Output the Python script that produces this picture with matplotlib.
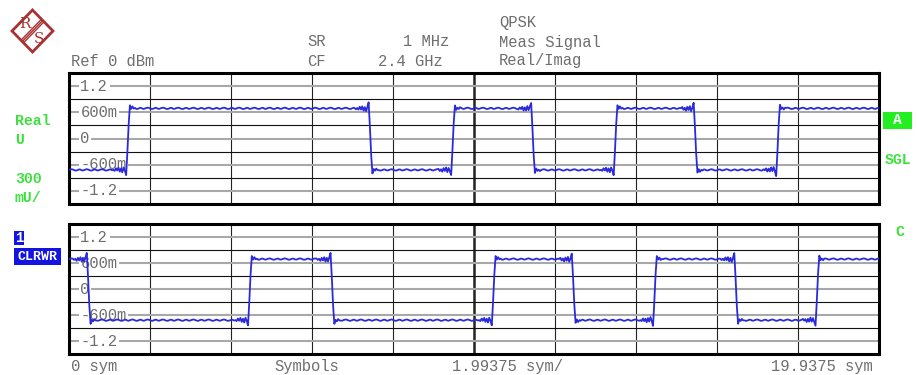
"""QPSK real/imag trace screen, redrawn with matplotlib."""

import matplotlib

matplotlib.use("Agg")
import matplotlib.pyplot as plt
import numpy as np
from matplotlib.patches import Polygon, Rectangle

# axis setup
SYM_PER_DIV = 1.99375
X_STOP = 19.9375
SAMPLES_PER_SYM = 32
HIGH = 0.69
LOW = -0.72

# symbol edges (in sym)
real_start = LOW
real_edges = [1.45, 7.42, 9.43, 11.42, 13.44, 15.40, 17.43]
imag_start = HIGH
imag_edges = [0.48, 4.45, 6.46, 10.45, 12.42, 14.42, 16.42, 18.40]

# shape of one edge: sample offset -> fraction of the step (ringing included)
edge_offsets = [-11, -10, -9, -8, -7, -6, -5, -4, -3, -2, -1, 0, 1, 2, 3, 4, 5, 6]
edge_shape = [0.01, -0.015, 0.02, -0.02, 0.03, -0.025, 0.035, -0.03, 0.04, -0.02, -0.09,
              0.3, 0.75, 1.05, 0.985, 1.02, 0.99, 1.01]
# small ripple on the flat parts
ripple = [0.0, 0.01, 0.016, 0.01, -0.004, -0.014, -0.012, 0.0, 0.012, 0.008, -0.008, -0.012]

grid_levels = [1.2, 0.9, 0.6, 0.3, 0.0, -0.3, -0.6, -0.9, -1.2]
level_labels = {1.2: "1.2", 0.6: "600m", 0.0: "0", -0.6: "-600m", -1.2: "-1.2"}

MONO = "Liberation Mono"
GRAY = "#6e6e6e"
GREEN = "#3ee03e"
BLUE = "#1414e0"
TRACE = "#2a2adc"


def build_trace(start, edges):
    t = np.arange(int(round(X_STOP * SAMPLES_PER_SYM)) + 1) / SAMPLES_PER_SYM
    v = np.full(t.size, start, dtype=float)
    level = start
    for e in edges:
        new = HIGH if level == LOW else LOW
        k0 = int(round(e * SAMPLES_PER_SYM))
        v[k0:] = new
        for off, frac in zip(edge_offsets, edge_shape):
            k = k0 + off
            if 0 <= k < t.size:
                v[k] = level + (new - level) * frac
        level = new
    v += np.resize(ripple, t.size)
    return t, v


def style_panel(ax):
    ax.set_xlim(0, X_STOP)
    ax.set_ylim(-1.5, 1.5)
    ax.set_xticks([])
    ax.set_yticks([])
    for i in range(1, 10):
        ax.axvline(i * SYM_PER_DIV, color="#222222", lw=1.8 if i == 5 else 0.8, zorder=1)
    for y in grid_levels:
        if y in level_labels:
            ax.axhline(y, color="#a8a8a8", lw=1.5, zorder=1)
            ax.text(0.28, y, level_labels[y], ha="left", va="center", fontsize=11.2,
                    family=MONO, color=GRAY, zorder=2,
                    bbox=dict(boxstyle="square,pad=0.1", fc="white", ec="none"))
        else:
            ax.axhline(y, color="#111111", lw=0.8, zorder=1)
    for sp in ax.spines.values():
        sp.set_linewidth(2.2)
        sp.set_color("black")


fig = plt.figure(figsize=(9.17, 3.75), dpi=100)
W, H = 917, 375
ax_top = fig.add_axes([69 / W, 1 - 204 / H, 810 / W, 131 / H])
ax_bot = fig.add_axes([69 / W, 1 - 354 / H, 810 / W, 130 / H])

for ax, start, edges in [(ax_top, real_start, real_edges), (ax_bot, imag_start, imag_edges)]:
    style_panel(ax)
    t, v = build_trace(start, edges)
    ax.plot(t, v, color=TRACE, lw=1.3, zorder=3)

# overlay in pixel coordinates for the screen annotations
ov = fig.add_axes([0, 0, 1, 1], zorder=10)
ov.set_xlim(0, W)
ov.set_ylim(H, 0)
ov.axis("off")
ov.patch.set_alpha(0)


def txt(x, y, s, ha="left", **kw):
    opts = dict(fontsize=11.2, family=MONO, color=GRAY, va="center", ha=ha)
    opts.update(kw)
    ov.text(x, y, s, **opts)


txt(71, 61, "Ref 0 dBm")
txt(307, 42, "SR")
txt(449, 42, "1 MHz", ha="right")
txt(307, 61, "CF")
txt(443, 61, "2.4 GHz", ha="right")
txt(499, 22, "QPSK")
txt(499, 42, "Meas Signal")
txt(499, 61, "Real/Imag")

txt(71, 367, "0 sym")
txt(274, 367, "Symbols")
txt(452, 367, "1.99375 sym/")
txt(873, 367, "19.9375 sym", ha="right")

bold = dict(color=GREEN, weight="bold", fontsize=10.7)
txt(15, 121, "Real", **bold)
txt(15, 140, "U", **bold)
txt(15, 179, "300", **bold)
txt(15, 198, "mU/", **bold)
txt(885, 160, "SGL", **bold)
txt(895, 232, "C", **bold)

ov.add_patch(Rectangle((14, 231), 10, 14, fc=BLUE, ec="none"))
txt(19, 238, "1", ha="center", color="white", weight="bold", fontsize=10)
ov.add_patch(Rectangle((14, 248), 47, 17, fc=BLUE, ec="none"))
txt(37.5, 256.5, "CLRWR", ha="center", color="white", weight="bold", fontsize=9.5)
ov.add_patch(Rectangle((883, 112), 29, 17, fc="#22ee22", ec="none"))
txt(897.5, 120.5, "A", ha="center", color="white", weight="bold", fontsize=10.5)

# R&S logo
red = "#a83232"
ov.add_patch(Polygon([(12, 31), (32.5, 10), (53, 31), (32.5, 52)], closed=True,
                     fc="white", ec=red, lw=2))
for d in (-1.8, 0, 1.8):
    ov.plot([42.75 + d * 0.7, 22.25 + d * 0.7], [20.5 + d * 0.7, 41.5 + d * 0.7],
            color=red, lw=1.0)
ov.text(25, 24, "R", fontsize=11, family="DejaVu Serif", color=red,
        ha="center", va="center")
ov.text(39, 39, "S", fontsize=11, family="DejaVu Serif", color=red,
        ha="center", va="center")

fig.savefig("out.png", dpi=100)
